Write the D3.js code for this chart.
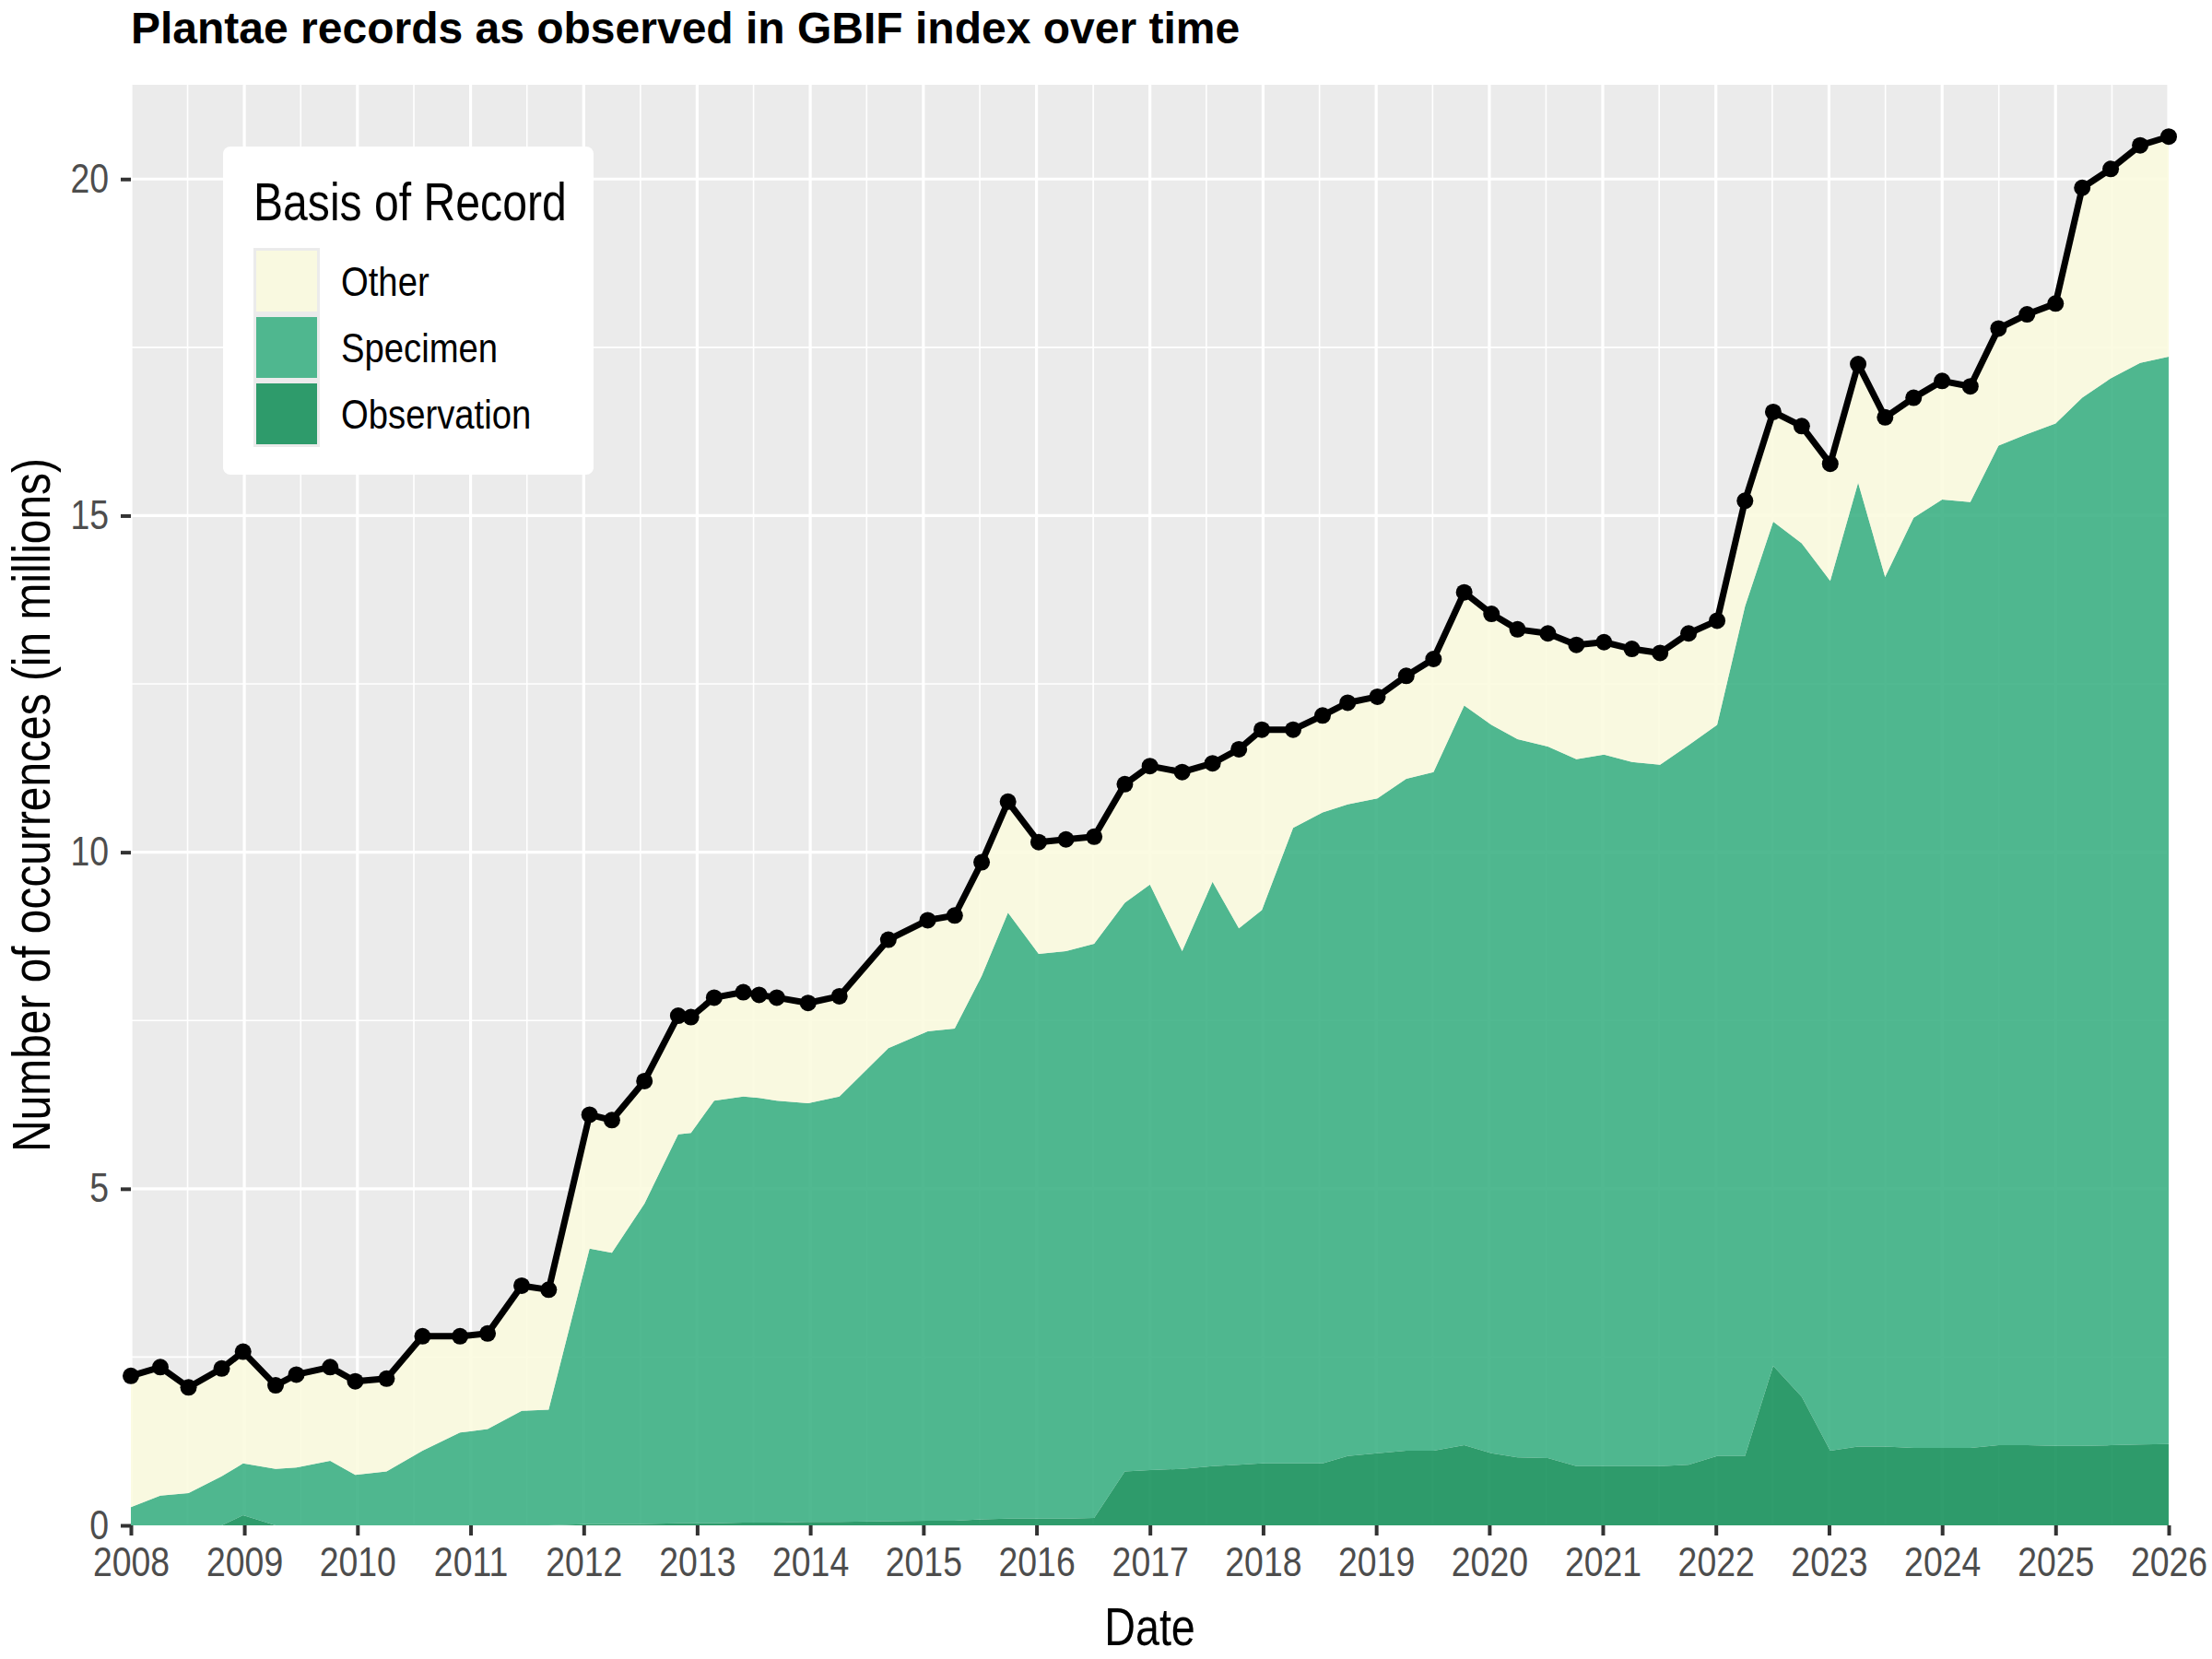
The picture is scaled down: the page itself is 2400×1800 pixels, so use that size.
<!DOCTYPE html>
<html>
<head>
<meta charset="UTF-8">
<title>Plantae records</title>
<script src="https://d3js.org/d3.v7.min.js"></script>
<style>
  body { margin: 0; background: #fff; }
  text { font-family: "Liberation Sans", Arial, sans-serif; }
</style>
</head>
<body>
<svg id="chart" width="2400" height="1800"></svg>
<script>
// snapshot dates of the index
const dates = ["2008-01-01","2008-04-05","2008-07-05","2008-10-20","2008-12-28","2009-04-12","2009-06-18","2009-10-05","2009-12-25","2010-04-05",
  "2010-07-30","2010-11-28","2011-02-25","2011-06-15","2011-09-10","2012-01-20","2012-04-01","2012-07-15","2012-11-01","2012-12-12",
  "2013-02-25","2013-05-30","2013-07-20","2013-09-15","2013-12-25","2014-04-05","2014-09-10","2015-01-15","2015-04-12","2015-07-08",
  "2015-10-01","2016-01-08","2016-04-05","2016-07-05","2016-10-12","2017-01-01","2017-04-15","2017-07-22","2017-10-15","2017-12-28",
  "2018-04-08","2018-07-12","2018-10-01","2019-01-05","2019-04-08","2019-07-05","2019-10-12","2020-01-08","2020-04-01","2020-07-08",
  "2020-10-08","2021-01-05","2021-04-05","2021-07-05","2021-10-05","2022-01-05","2022-04-05","2022-07-05","2022-10-05","2023-01-05",
  "2023-04-05","2023-07-01","2023-10-01","2024-01-01","2024-04-01","2024-07-01","2024-10-01","2025-01-01","2025-03-28","2025-06-28",
  "2025-10-01","2026-01-01"];

// millions of records per basis of record
const observation = [0,0,0,0,0.15,0,0,0,0,0,
  0,0,0,0,0,0.02,0.02,0.02,0.03,0.03,
  0.03,0.04,0.04,0.04,0.05,0.05,0.06,0.07,0.07,0.09,
  0.10,0.10,0.10,0.11,0.80,0.82,0.84,0.88,0.90,0.92,
  0.92,0.92,1.03,1.07,1.11,1.11,1.19,1.07,1.01,1.00,
  0.88,0.88,0.88,0.88,0.90,1.03,1.03,2.37,1.91,1.11,
  1.17,1.17,1.15,1.15,1.15,1.19,1.19,1.18,1.18,1.19,
  1.20,1.21];
const specimen = [0.27,0.44,0.48,0.73,0.77,0.84,0.86,0.96,0.75,0.80,
  1.11,1.38,1.43,1.70,1.72,4.09,4.03,4.76,5.78,5.80,
  6.28,6.33,6.31,6.27,6.22,6.32,7.03,7.27,7.31,8.07,
  9.00,8.39,8.43,8.53,8.45,8.70,7.69,8.68,7.97,8.22,
  9.44,9.67,9.68,9.73,9.98,10.08,10.99,10.82,10.67,10.57,
  10.50,10.57,10.46,10.42,10.69,10.86,12.62,12.54,12.68,12.92,
  14.32,12.92,13.82,14.09,14.05,14.85,15.02,15.19,15.57,15.85,
  16.07,16.15];
const other = [1.95,1.91,1.57,1.60,1.66,1.24,1.38,1.39,1.39,1.38,
  1.70,1.43,1.42,1.86,1.78,1.99,1.97,1.82,1.76,1.72,
  1.53,1.55,1.53,1.53,1.49,1.49,1.61,1.65,1.68,1.69,
  1.65,1.66,1.66,1.59,1.76,1.76,2.66,1.76,2.66,2.68,
  1.46,1.44,1.51,1.51,1.53,1.68,1.68,1.65,1.63,1.68,
  1.70,1.67,1.68,1.66,1.66,1.55,1.57,1.63,1.74,1.74,
  1.76,2.37,1.78,1.76,1.72,1.74,1.78,1.78,3.12,3.11,
  3.23,3.27];

const seriesKeys = ["Observation", "Specimen", "Other"];
const legendKeys = ["Other", "Specimen", "Observation"];
const colors = { Other: "#fbfbdf", Specimen: "#3eb185", Observation: "#19925d" };
const yTicks = [0, 5, 10, 15, 20];
const xTickYears = d3.range(2008, 2027);

const parse = d3.timeParse("%Y-%m-%d");
const rows = dates.map((d, i) => ({
  date: parse(d),
  Observation: observation[i],
  Specimen: specimen[i],
  Other: other[i]
}));
rows.forEach(r => r.total = r.Observation + r.Specimen + r.Other);

const svg = d3.select("#chart");
const margin = { left: 142, right: 47, top: 92, bottom: 145 };
const W = 2400, H = 1800;
const pw = W - margin.left - margin.right;
const ph = H - margin.top - margin.bottom;
const narrow = 0.85;   // the original font is a condensed sans

const x = d3.scaleTime()
  .domain([new Date(2008, 0, 1), new Date(2026, 0, 1)])
  .range([margin.left, margin.left + pw]);
const y = d3.scaleLinear()
  .domain([0, 21.4])
  .range([margin.top + ph, margin.top]);

// panel
svg.append("rect")
  .attr("x", margin.left).attr("y", margin.top)
  .attr("width", pw).attr("height", ph)
  .attr("fill", "#ebebeb");

// grid
const g = svg.append("g");
const xMinor = xTickYears.slice(0, -1).map(yr => new Date(yr, 6, 2));
const yMinor = [2.5, 7.5, 12.5, 17.5];
g.selectAll(".xminor").data(xMinor).join("line")
  .attr("x1", d => x(d)).attr("x2", d => x(d))
  .attr("y1", margin.top).attr("y2", margin.top + ph)
  .attr("stroke", "#fff").attr("stroke-width", 1.6);
g.selectAll(".yminor").data(yMinor).join("line")
  .attr("x1", margin.left).attr("x2", margin.left + pw)
  .attr("y1", d => y(d)).attr("y2", d => y(d))
  .attr("stroke", "#fff").attr("stroke-width", 1.6);
g.selectAll(".xmajor").data(xTickYears).join("line")
  .attr("x1", d => x(new Date(d, 0, 1))).attr("x2", d => x(new Date(d, 0, 1)))
  .attr("y1", margin.top).attr("y2", margin.top + ph)
  .attr("stroke", "#fff").attr("stroke-width", 3.2);
g.selectAll(".ymajor").data(yTicks).join("line")
  .attr("x1", margin.left).attr("x2", margin.left + pw)
  .attr("y1", d => y(d)).attr("y2", d => y(d))
  .attr("stroke", "#fff").attr("stroke-width", 3.2);

// stacked areas
const stack = d3.stack().keys(seriesKeys);
const layers = stack(rows);
const area = d3.area()
  .x(d => x(d.data.date))
  .y0(d => y(d[0]))
  .y1(d => y(d[1]));
svg.append("g").selectAll("path").data(layers).join("path")
  .attr("d", area)
  .attr("fill", d => colors[d.key])
  .attr("fill-opacity", 0.9);

// total line + points
const line = d3.line().x(d => x(d.date)).y(d => y(d.total));
svg.append("path")
  .datum(rows)
  .attr("d", line)
  .attr("fill", "none")
  .attr("stroke", "#000")
  .attr("stroke-width", 7)
  .attr("stroke-linejoin", "round");
svg.append("g").selectAll("circle").data(rows).join("circle")
  .attr("cx", d => x(d.date))
  .attr("cy", d => y(d.total))
  .attr("r", 9)
  .attr("fill", "#000");

// axes
const xAxis = d3.axisBottom(x)
  .tickValues(xTickYears.map(yr => new Date(yr, 0, 1)))
  .tickFormat(d3.timeFormat("%Y"))
  .tickSize(11).tickPadding(13);
const xg = svg.append("g")
  .attr("transform", `translate(0,${margin.top + ph})`)
  .call(xAxis);
const yAxis = d3.axisLeft(y).tickValues(yTicks).tickSize(11).tickPadding(13);
const yg = svg.append("g")
  .attr("transform", `translate(${margin.left},0)`)
  .call(yAxis);
[xg, yg].forEach(a => {
  a.select(".domain").remove();
  a.selectAll(".tick line").attr("stroke", "#333").attr("stroke-width", 4);
  a.selectAll(".tick text")
    .attr("fill", "#4d4d4d")
    .attr("font-size", 44)
    .attr("transform", `scale(${narrow},1)`)
    .style("font-family", '"Liberation Sans", Arial, sans-serif');
});
yg.selectAll(".tick text").attr("x", -24 / narrow);

// titles
svg.append("text")
  .attr("x", margin.left).attr("y", 47)
  .attr("font-size", 48).attr("font-weight", "bold")
  .attr("fill", "#000")
  .text("Plantae records as observed in GBIF index over time");
svg.append("text")
  .attr("transform", `translate(${margin.left + pw / 2},1785) scale(0.82,1)`)
  .attr("text-anchor", "middle")
  .attr("font-size", 57).attr("fill", "#000")
  .text("Date");
svg.append("text")
  .attr("transform", `translate(54,${margin.top + ph / 2}) rotate(-90) scale(0.84,1)`)
  .attr("text-anchor", "middle")
  .attr("font-size", 57).attr("fill", "#000")
  .text("Number of occurrences (in millions)");

// legend
const lg = svg.append("g").attr("transform", "translate(242,159)");
lg.append("rect")
  .attr("width", 402).attr("height", 356).attr("rx", 8)
  .attr("fill", "#fff");
lg.append("text")
  .attr("transform", "translate(33,80) scale(0.83,1)")
  .attr("font-size", 58).attr("fill", "#000")
  .text("Basis of Record");
legendKeys.forEach((k, i) => {
  const ky = 110 + i * 72;
  lg.append("rect")
    .attr("x", 33).attr("y", ky)
    .attr("width", 72).attr("height", 72)
    .attr("fill", "#ebebeb");
  lg.append("rect")
    .attr("x", 36).attr("y", ky + 3)
    .attr("width", 66).attr("height", 66)
    .attr("fill", colors[k]).attr("fill-opacity", 0.9);
  lg.append("text")
    .attr("transform", `translate(128,${ky + 36}) scale(0.85,1)`)
    .attr("dy", "0.36em")
    .attr("font-size", 45).attr("fill", "#000")
    .text(k);
});
</script>
</body>
</html>
